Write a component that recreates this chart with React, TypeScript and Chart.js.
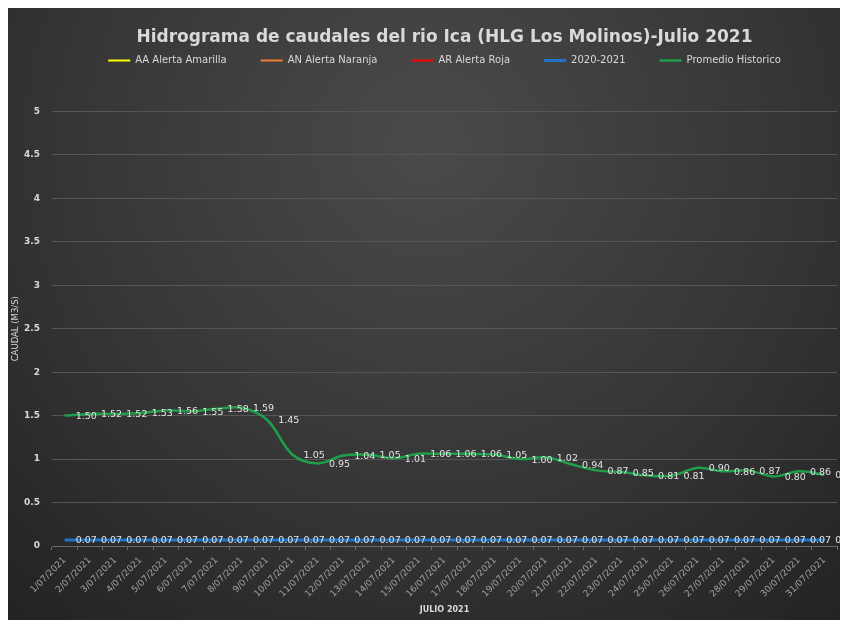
import React, { useEffect, useRef } from "react";
import { Chart, registerables } from "chart.js";

Chart.register(...registerables);

const chartTitle = "Hidrograma de caudales del rio Ica (HLG Los Molinos)-Julio 2021";
const yAxisTitle = "CAUDAL (M3/S)";
const xAxisTitle = "JULIO 2021";

const categories = [
  "1/07/2021", "2/07/2021", "3/07/2021", "4/07/2021", "5/07/2021", "6/07/2021",
  "7/07/2021", "8/07/2021", "9/07/2021", "10/07/2021", "11/07/2021", "12/07/2021",
  "13/07/2021", "14/07/2021", "15/07/2021", "16/07/2021", "17/07/2021", "18/07/2021",
  "19/07/2021", "20/07/2021", "21/07/2021", "22/07/2021", "23/07/2021", "24/07/2021",
  "25/07/2021", "26/07/2021", "27/07/2021", "28/07/2021", "29/07/2021", "30/07/2021",
  "31/07/2021",
];

const alertaAmarilla: (number | null)[] = [];
const alertaNaranja: (number | null)[] = [];
const alertaRoja: (number | null)[] = [];

const serie2020_2021 = [
  0.07, 0.07, 0.07, 0.07, 0.07, 0.07, 0.07, 0.07, 0.07, 0.07, 0.07,
  0.07, 0.07, 0.07, 0.07, 0.07, 0.07, 0.07, 0.07, 0.07, 0.07, 0.07,
  0.07, 0.07, 0.07, 0.07, 0.07, 0.07, 0.07, 0.07, 0.07,
];

const promedioHistorico = [
  1.50, 1.52, 1.52, 1.53, 1.56, 1.55, 1.58, 1.59, 1.45, 1.05, 0.95,
  1.04, 1.05, 1.01, 1.06, 1.06, 1.06, 1.05, 1.00, 1.02, 0.94, 0.87,
  0.85, 0.81, 0.81, 0.90, 0.86, 0.87, 0.80, 0.86, 0.82,
];

const yTicks = { min: 0, max: 5, step: 0.5 };

const FONT = "'DejaVu Sans', sans-serif";

const backgroundPlugin = {
  id: "bgGradient",
  beforeDraw(chart: any) {
    const { ctx, width, height } = chart;
    ctx.save();
    const g = ctx.createRadialGradient(width / 2, 140, 0, width / 2, 140, 640);
    g.addColorStop(0, "#4a4a4a");
    g.addColorStop(0.55, "#363636");
    g.addColorStop(1, "#222222");
    ctx.fillStyle = g;
    ctx.fillRect(0, 0, width, height);
    ctx.restore();
  },
};

const legendSpacer = {
  id: "legendSpacer",
  beforeInit(chart: any) {
    const legend = chart.legend;
    if (!legend) return;
    const orig = legend.fit;
    legend.fit = function () {
      orig.call(legend);
      legend.height += 36;
    };
  },
};

const valueLabels = {
  id: "valueLabels",
  afterDatasetsDraw(chart: any) {
    const { ctx } = chart;
    ctx.save();
    ctx.font = `9.5px ${FONT}`;
    ctx.fillStyle = "#e4e4e4";
    ctx.textAlign = "left";
    ctx.textBaseline = "middle";
    chart.data.datasets.forEach((ds: any, i: number) => {
      if (!ds.showValues) return;
      const meta = chart.getDatasetMeta(i);
      meta.data.forEach((pt: any, j: number) => {
        const v = ds.data[j];
        if (v == null) return;
        ctx.fillText(Number(v).toFixed(2), pt.x + 11, pt.y + 1);
      });
    });
    ctx.restore();
  },
};

export default function App() {
  const ref = useRef<HTMLCanvasElement | null>(null);

  useEffect(() => {
    if (!ref.current) return;
    const chart = new Chart(ref.current, {
      type: "line",
      data: {
        labels: categories,
        datasets: [
          { label: "AA Alerta Amarilla", data: alertaAmarilla, borderColor: "#ffff00", backgroundColor: "#ffff00", borderWidth: 2, pointRadius: 0 },
          { label: "AN Alerta Naranja", data: alertaNaranja, borderColor: "#ed7d31", backgroundColor: "#ed7d31", borderWidth: 2, pointRadius: 0 },
          { label: "AR Alerta Roja", data: alertaRoja, borderColor: "#ff0000", backgroundColor: "#ff0000", borderWidth: 2, pointRadius: 0 },
          { label: "2020-2021", data: serie2020_2021, borderColor: "#1f74c8", backgroundColor: "#1f74c8", borderWidth: 3, pointRadius: 0, tension: 0.35, showValues: true } as any,
          { label: "Promedio Historico", data: promedioHistorico, borderColor: "#1f9f4a", backgroundColor: "#1f9f4a", borderWidth: 2.5, pointRadius: 0, tension: 0.35, showValues: true } as any,
        ],
      },
      options: {
        animation: false,
        responsive: false,
        devicePixelRatio: 1,
        layout: { padding: { left: 0, right: 11, top: 0, bottom: 0 } },
        plugins: {
          title: {
            display: true,
            text: chartTitle,
            fullSize: false,
            color: "#d9d9d9",
            font: { family: FONT, size: 17, weight: "bold" },
            padding: { top: 24, bottom: -26 },
          },
          legend: {
            display: true,
            position: "top",
            fullSize: false,
            labels: {
              color: "#d9d9d9",
              font: { family: FONT, size: 10 },
              usePointStyle: true,
              pointStyle: "line",
              pointStyleWidth: 22,
              boxWidth: 22,
              padding: 34,
            },
          },
          tooltip: { enabled: false },
        },
        scales: {
          x: {
            offset: true,
            afterFit(scale: any) {
              scale.height = 74;
            },
            grid: {
              offset: true,
              drawOnChartArea: false,
              drawTicks: true,
              tickLength: 4,
              color: "#6b6b6b",
            },
            border: { display: true, color: "#6b6b6b" },
            ticks: {
              autoSkip: false,
              minRotation: 45,
              maxRotation: 45,
              padding: 5,
              color: "#a0a0a0",
              font: { family: FONT, size: 9 },
            },
            title: {
              display: true,
              text: xAxisTitle,
              color: "#d9d9d9",
              font: { family: FONT, size: 8, weight: "bold" },
              padding: { top: 0, bottom: 5 },
            },
          },
          y: {
            min: yTicks.min,
            max: yTicks.max,
            afterFit(scale: any) {
              scale.width = 44;
            },
            grid: { color: "#565656", drawTicks: false },
            border: { display: false },
            ticks: {
              stepSize: yTicks.step,
              padding: 12,
              color: "#d9d9d9",
              font: { family: FONT, size: 9, weight: "bold" },
              callback: (v: any) => String(Math.round(Number(v) * 10) / 10),
            },
            title: {
              display: true,
              text: yAxisTitle,
              color: "#d9d9d9",
              font: { family: FONT, size: 8.5 },
              padding: { top: 3, bottom: 0 },
            },
          },
        },
      },
      plugins: [backgroundPlugin, legendSpacer, valueLabels],
    });
    return () => chart.destroy();
  }, []);

  return (
    <div style={{ marginTop: -5 }}>
      <canvas ref={ref} width={840} height={617} style={{ display: "block", width: 840, height: 617 }} />
    </div>
  );
}
